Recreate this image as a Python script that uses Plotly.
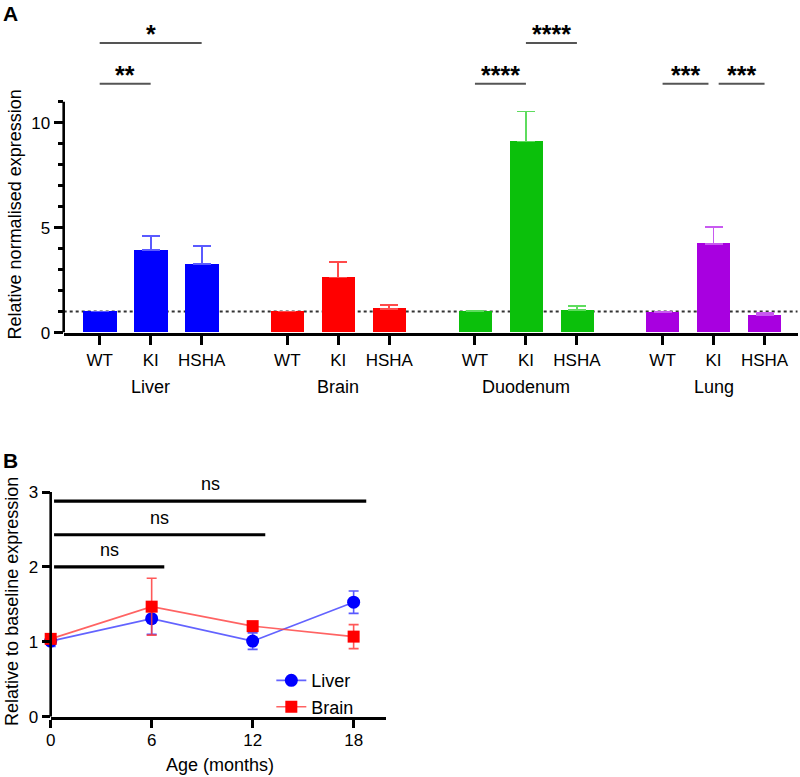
import plotly.graph_objects as go

# ---------------- Panel A data ----------------
tissues = ["Liver", "Brain", "Duodenum", "Lung"]
genotypes = ["WT", "KI", "HSHA"]
liver_vals = [1.00, 3.92, 3.27]
liver_err = [0.0, 0.68, 0.87]
brain_vals = [1.00, 2.63, 1.14]
brain_err = [0.0, 0.75, 0.16]
duodenum_vals = [1.01, 9.11, 1.06]
duodenum_err = [0.0, 1.43, 0.19]
lung_vals = [0.98, 4.24, 0.84]
lung_err = [0.0, 0.81, 0.10]
bar_colors = ["#0000FF", "#FF0000", "#0BC00B", "#A800E0"]
err_colors = ["#5A5AFF", "#FF4A4A", "#5EDC5E", "#C85AF0"]
baseline_value = 1.0

# significance comparisons (tissue index, genotype index from/to, tier, label)
sig_group = [0, 0, 2, 2, 3, 3]
sig_from = [0, 0, 0, 1, 0, 1]
sig_to = [2, 1, 1, 2, 1, 2]
sig_tier = [2, 1, 1, 2, 1, 1]
sig_label = ["*", "**", "****", "****", "***", "***"]

# ---------------- Panel B data ----------------
ages = [0, 6, 12, 18]
liver_time = [1.01, 1.31, 1.01, 1.53]
liver_time_err = [0.07, 0.21, 0.11, 0.15]
brain_time = [1.04, 1.47, 1.21, 1.07]
brain_time_err = [0.05, 0.38, 0.04, 0.16]
ns_from = [0, 0, 0]
ns_to = [6, 12, 18]
ns_label = ["ns", "ns", "ns"]

# ---------------- layout constants ----------------
FONT = "Liberation Sans, Arial, sans-serif"


def sy(px):
    """target vertical screen pixel (from top) -> paper coordinate"""
    return 1 - px / 768.0


def sx(px):
    """target horizontal screen pixel -> paper coordinate"""
    return min(1.0, max(0.0, ((px - 4.3) / 0.994) / 800.0))


GROUP_STEP = 3.68
BAR_W = 0.65
A_PX0, A_PX1 = 63, 797        # screen span of panel A x axis
A_X0_PX, A_STEP_PX = 99, 51    # screen pos of first bar, px per bar step
A_XDOM = [sx(A_PX0), sx(A_PX1)]
A_XRANGE = [(A_PX0 - A_X0_PX) / A_STEP_PX, (A_PX1 - A_X0_PX) / A_STEP_PX]
A_YDOM = [sy(333), sy(333 - 15.6 * 21)]
B_XDOM = [sx(50), sx(385)]
B_YDOM = [sy(717.7), sy(717.7 - 3.3 * 75)]
TIER_Y = {1: 11.86, 2: 13.81}
NS_Y = [2.00, 2.43, 2.88]

all_vals = [liver_vals, brain_vals, duodenum_vals, lung_vals]
all_errs = [liver_err, brain_err, duodenum_err, lung_err]


def xpos(g, i):
    return g * GROUP_STEP + i


fig = go.Figure()

tickvals_a, ticktext_a = [], []
for g, tissue in enumerate(tissues):
    xs = [xpos(g, i) for i in range(len(genotypes))]
    tickvals_a += xs
    ticktext_a += genotypes
    fig.add_trace(go.Bar(
        x=xs, y=all_vals[g], width=BAR_W, name=tissue, showlegend=False,
        marker=dict(color=bar_colors[g], line=dict(width=0)),
        error_y=dict(type="data", symmetric=False, array=all_errs[g],
                     arrayminus=[0] * len(genotypes), color=err_colors[g],
                     thickness=1.8, width=9),
        xaxis="x", yaxis="y",
    ))

# Panel B traces
fig.add_trace(go.Scatter(
    x=ages, y=liver_time, name="Liver", mode="lines+markers",
    line=dict(color="rgba(60,60,255,0.8)", width=1.6),
    marker=dict(color="#0000FF", size=13, symbol="circle"),
    error_y=dict(type="data", array=liver_time_err, color="rgba(60,60,255,0.85)",
                 thickness=1.6, width=5),
    cliponaxis=False, xaxis="x2", yaxis="y2",
))
fig.add_trace(go.Scatter(
    x=ages, y=brain_time, name="Brain", mode="lines+markers",
    line=dict(color="rgba(255,60,60,0.8)", width=1.6),
    marker=dict(color="#FF0000", size=12, symbol="square"),
    error_y=dict(type="data", array=brain_time_err, color="rgba(255,60,60,0.85)",
                 thickness=1.6, width=5),
    cliponaxis=False, xaxis="x2", yaxis="y2",
))

shapes = []
annotations = []

# Panel A y-axis line (only up to 11) and baseline dotted line
shapes.append(dict(type="line", xref="paper", yref="y", x0=A_XDOM[0], x1=A_XDOM[0],
                   y0=0, y1=11, line=dict(color="black", width=2.6)))
shapes.append(dict(type="line", xref="paper", yref="y", x0=A_XDOM[0], x1=A_XDOM[1],
                   y0=baseline_value, y1=baseline_value, layer="below",
                   line=dict(color="#333333", width=2, dash="dot")))

# significance lines panel A
for k in range(len(sig_group)):
    g, a, b, t = sig_group[k], sig_from[k], sig_to[k], sig_tier[k]
    x0, x1 = xpos(g, a), xpos(g, b)
    for j in range(len(sig_group)):
        if j == k or sig_group[j] != g or sig_tier[j] != t:
            continue
        if sig_from[j] == b:
            x1 -= 0.1
        if sig_to[j] == a:
            x0 += 0.1
    y = TIER_Y[t]
    shapes.append(dict(type="line", xref="x", yref="y", x0=x0, x1=x1, y0=y, y1=y,
                       line=dict(color="#555555", width=2)))
    annotations.append(dict(x=(x0 + x1) / 2, y=y, xref="x", yref="y", text=sig_label[k],
                            showarrow=False, yanchor="middle", yshift=9,
                            font=dict(family=FONT, size=25, color="black", weight="bold")))

# group labels
for g, tissue in enumerate(tissues):
    annotations.append(dict(x=xpos(g, 1), y=sy(388), xref="x", yref="paper",
                            text=tissue, showarrow=False, yanchor="middle",
                            font=dict(family=FONT, size=18, color="black")))

# Panel B y-axis line (up to 3)
shapes.append(dict(type="line", xref="paper", yref="y2", x0=B_XDOM[0], x1=B_XDOM[0],
                   y0=0, y1=3, line=dict(color="black", width=2.6)))

for k in range(len(ns_from)):
    x0 = ns_from[k] + 0.2
    x1 = ns_to[k] + 0.75
    y = NS_Y[k]
    shapes.append(dict(type="line", xref="x2", yref="y2", x0=x0, x1=x1, y0=y, y1=y,
                       line=dict(color="black", width=3.2)))
    annotations.append(dict(x=(x0 + x1) / 2, y=y, xref="x2", yref="y2", text=ns_label[k],
                            showarrow=False, yanchor="middle", yshift=17,
                            font=dict(family=FONT, size=18, color="black")))

# Titles & panel letters
annotations += [
    dict(x=sx(14), y=sy(215), xref="paper", yref="paper",
         text="Relative normalised expression", textangle=-90, showarrow=False,
         xanchor="center", yanchor="middle", font=dict(family=FONT, size=18, color="black")),
    dict(x=sx(12), y=sy(602), xref="paper", yref="paper",
         text="Relative to baseline expression", textangle=-90, showarrow=False,
         xanchor="center", yanchor="middle", font=dict(family=FONT, size=18, color="black")),
    dict(x=sx(219), y=sy(766), xref="paper", yref="paper",
         text="Age (months)", showarrow=False, xanchor="center", yanchor="middle",
         font=dict(family=FONT, size=18, color="black")),
    dict(x=sx(10), y=sy(14), xref="paper", yref="paper", text="<b>A</b>",
         showarrow=False, xanchor="center", yanchor="middle",
         font=dict(family=FONT, size=21, color="black")),
    dict(x=sx(10), y=sy(461), xref="paper", yref="paper", text="<b>B</b>",
         showarrow=False, xanchor="center", yanchor="middle",
         font=dict(family=FONT, size=21, color="black")),
]

fig.update_layout(
    width=800, height=777, margin=dict(l=0, r=0, t=0, b=0),
    paper_bgcolor="white", plot_bgcolor="white",
    font=dict(family=FONT, size=17, color="black"),
    bargap=0,
    xaxis=dict(domain=A_XDOM, range=A_XRANGE,
               anchor="y", showgrid=False, zeroline=False,
               showline=True, linecolor="black", linewidth=2.6,
               ticks="outside", ticklen=10, tickwidth=2.6, tickcolor="black",
               tickmode="array", tickvals=tickvals_a, ticktext=ticktext_a,
               tickfont=dict(size=17), ticklabelstandoff=0),
    yaxis=dict(domain=A_YDOM, range=[0, 15.6], anchor="x", showgrid=False,
               zeroline=False, showline=False,
               ticks="outside", ticklen=9, tickwidth=2.6, tickcolor="black",
               tickmode="array", tickvals=[0, 5, 10], ticktext=["0", "5", "10"],
               tickfont=dict(size=17),
               minor=dict(tickmode="array", tickvals=[1, 2, 3, 4, 6, 7, 8, 9, 11],
                          ticks="outside", ticklen=5, tickwidth=2.6, tickcolor="black",
                          showgrid=False)),
    xaxis2=dict(domain=B_XDOM, range=[0, 19.9], anchor="y2", showgrid=False,
                zeroline=False, showline=True, linecolor="black", linewidth=2.6,
                ticks="outside", ticklen=8, tickwidth=2.6, tickcolor="black",
                tickmode="array", tickvals=ages, tickfont=dict(size=17),
                ticklabelstandoff=-2),
    yaxis2=dict(domain=B_YDOM, range=[0, 3.3], anchor="x2", showgrid=False,
                zeroline=False, showline=False,
                ticks="outside", ticklen=8, tickwidth=2.6, tickcolor="black",
                tickmode="array", tickvals=[0, 1, 2, 3], tickfont=dict(size=17)),
    showlegend=True,
    legend=dict(x=0.335, y=sy(663), xanchor="left", yanchor="top",
                bgcolor="rgba(0,0,0,0)", font=dict(size=18), tracegroupgap=0),
    shapes=shapes, annotations=annotations,
)

fig.write_html("out.html", config={"displayModeBar": False},
               post_script="document.body.style.margin='0px';")
